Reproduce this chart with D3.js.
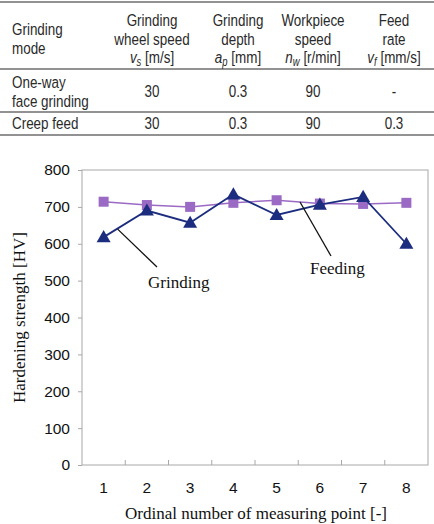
<!DOCTYPE html>
<html>
<head>
<meta charset="utf-8">
<script src="https://cdn.jsdelivr.net/npm/d3@7"></script>
<style>
  body { margin: 0; background: #fff; }
  svg { display: block; }
</style>
</head>
<body>
<div id="chart"></div>
<script>
// table
var tableHeader = [
  ["Grinding", "mode"],
  ["Grinding", "wheel speed", "v|s| [m/s]"],
  ["Grinding", "depth", "a|p| [mm]"],
  ["Workpiece", "speed", "n|w| [r/min]"],
  ["Feed", "rate", "v|f| [mm/s]"]
];
var tableRows = [
  [["One-way", "face grinding"], "30", "0.3", "90", "-"],
  [["Creep feed"], "30", "0.3", "90", "0.3"]
];

// chart data
var points = ["1", "2", "3", "4", "5", "6", "7", "8"];
var grinding = [618, 690, 657, 734, 678, 706, 727, 600];
var feeding = [714, 705, 700, 711, 718, 709, 708, 711];
var yTicks = [0, 100, 200, 300, 400, 500, 600, 700, 800];

var W = 434, H = 524;
var svg = d3.select("#chart").append("svg").attr("width", W).attr("height", H);

// narrow look: Arial-metric font squeezed horizontally
var tFont = "'Liberation Sans', Arial, sans-serif";
var colX = [12, 152, 238, 313, 394];

// table lines
var lineCol = "#6e6e6e";
[2, 69, 112, 135].forEach(function(y) {
  svg.append("line")
    .attr("x1", 0).attr("x2", W)
    .attr("y1", y).attr("y2", y)
    .attr("stroke", lineCol)
    .attr("stroke-width", 1.5);
});

function writeCell(x, lines, top, anchor) {
  lines.forEach(function(s, i) {
    var t = svg.append("text")
      .attr("transform", "translate(" + x + "," + (top + i * 18.5) + ") scale(0.79,1)")
      .attr("text-anchor", anchor)
      .style("font-family", tFont)
      .style("font-size", "17px")
      .attr("fill", "#2a2a2a");
    var parts = s.split("|");
    if (parts.length === 3) {
      t.append("tspan").style("font-style", "italic").text(parts[0]);
      t.append("tspan").attr("dy", 3).style("font-style", "italic").style("font-size", "12px").text(parts[1]);
      t.append("tspan").attr("dy", -3).text(parts[2]);
    } else {
      t.text(s);
    }
  });
}

writeCell(colX[0], tableHeader[0], 35, "start");
for (var c = 1; c < 5; c++) writeCell(colX[c], tableHeader[c], 26, "middle");

writeCell(colX[0], tableRows[0][0], 88, "start");
for (var c = 1; c < 5; c++) writeCell(colX[c], [tableRows[0][c]], 97, "middle");
writeCell(colX[0], tableRows[1][0], 129, "start");
for (var c = 1; c < 5; c++) writeCell(colX[c], [tableRows[1][c]], 129, "middle");

// chart
var margin = {left: 82, right: 6, top: 170, bottom: 59};
var plotW = W - margin.left - margin.right;
var plotH = H - margin.top - margin.bottom;

var g = svg.append("g").attr("transform", "translate(" + margin.left + "," + margin.top + ")");

var x = d3.scaleBand().domain(points).range([0, plotW]).padding(0);
var y = d3.scaleLinear().domain([0, 800]).range([plotH, 0]);

var frameCol = "#a8a8a8";
g.append("rect")
  .attr("x", 0).attr("y", 0)
  .attr("width", plotW).attr("height", plotH)
  .attr("fill", "none")
  .attr("stroke", frameCol)
  .attr("stroke-width", 1);

var sans = "'Liberation Sans', Arial, sans-serif";

// y axis
var yAxis = g.append("g")
  .call(d3.axisLeft(y).tickValues(yTicks).tickSize(4).tickPadding(8));
yAxis.select(".domain").remove();
yAxis.selectAll("line").attr("stroke", frameCol);
yAxis.selectAll("text")
  .style("font-family", sans)
  .style("font-size", "15.5px")
  .attr("fill", "#111");

// x axis
var xAxis = g.append("g")
  .attr("transform", "translate(0," + plotH + ")")
  .call(d3.axisBottom(x).tickSize(0).tickPadding(17));
xAxis.select(".domain").remove();
xAxis.selectAll("text")
  .style("font-family", sans)
  .style("font-size", "15.5px")
  .attr("fill", "#111");

// inner tick marks at band boundaries
g.selectAll(".bt")
  .data(points.slice(1))
  .enter().append("line")
  .attr("x1", function(d) { return x(d); })
  .attr("x2", function(d) { return x(d); })
  .attr("y1", plotH).attr("y2", plotH - 5)
  .attr("stroke", frameCol);

var cx = function(d, i) { return x(points[i]) + x.bandwidth() / 2; };

var line = d3.line()
  .x(function(d, i) { return x(points[i]) + x.bandwidth() / 2; })
  .y(function(d) { return y(d); });

var purple = "#9a6ac4";
var navy = "#1c2d7f";

g.append("path").datum(feeding)
  .attr("d", line).attr("fill", "none")
  .attr("stroke", purple).attr("stroke-width", 1.5);

g.selectAll(".sq").data(feeding).enter().append("rect")
  .attr("x", function(d, i) { return cx(d, i) - 5; })
  .attr("y", function(d) { return y(d) - 5; })
  .attr("width", 10).attr("height", 10)
  .attr("fill", purple);

g.append("path").datum(grinding)
  .attr("d", line).attr("fill", "none")
  .attr("stroke", navy).attr("stroke-width", 1.8);

g.selectAll(".tri").data(grinding).enter().append("path")
  .attr("d", d3.symbol().type(d3.symbolTriangle).size(85))
  .attr("transform", function(d, i) { return "translate(" + cx(d, i) + "," + (y(d) + 1) + ")"; })
  .attr("fill", navy);

// annotations
var serif = "'Liberation Serif', 'Times New Roman', serif";
g.append("line")
  .attr("x1", x("1") + x.bandwidth() / 2 + 14).attr("y1", y(grinding[0]) - 8)
  .attr("x2", 157 - margin.left).attr("y2", 267 - margin.top)
  .attr("stroke", "#111").attr("stroke-width", 1.3);
g.append("text")
  .attr("x", 148 - margin.left).attr("y", 288 - margin.top)
  .style("font-family", serif).style("font-size", "17px")
  .attr("fill", "#111")
  .text("Grinding");

g.append("line")
  .attr("x1", 300 - margin.left).attr("y1", 202 - margin.top)
  .attr("x2", 331 - margin.left).attr("y2", 256 - margin.top)
  .attr("stroke", "#111").attr("stroke-width", 1.3);
g.append("text")
  .attr("x", 310 - margin.left).attr("y", 274 - margin.top)
  .style("font-family", serif).style("font-size", "17px")
  .attr("fill", "#111")
  .text("Feeding");

// axis titles
svg.append("text")
  .attr("x", 256).attr("y", 519)
  .attr("text-anchor", "middle")
  .style("font-family", serif).style("font-size", "17px")
  .attr("fill", "#111")
  .text("Ordinal number of measuring point [-]");

svg.append("text")
  .attr("transform", "translate(25," + (margin.top + plotH / 2) + ") rotate(-90)")
  .attr("text-anchor", "middle")
  .style("font-family", serif).style("font-size", "17px")
  .attr("fill", "#111")
  .text("Hardening strength [HV]");
</script>
</body>
</html>
